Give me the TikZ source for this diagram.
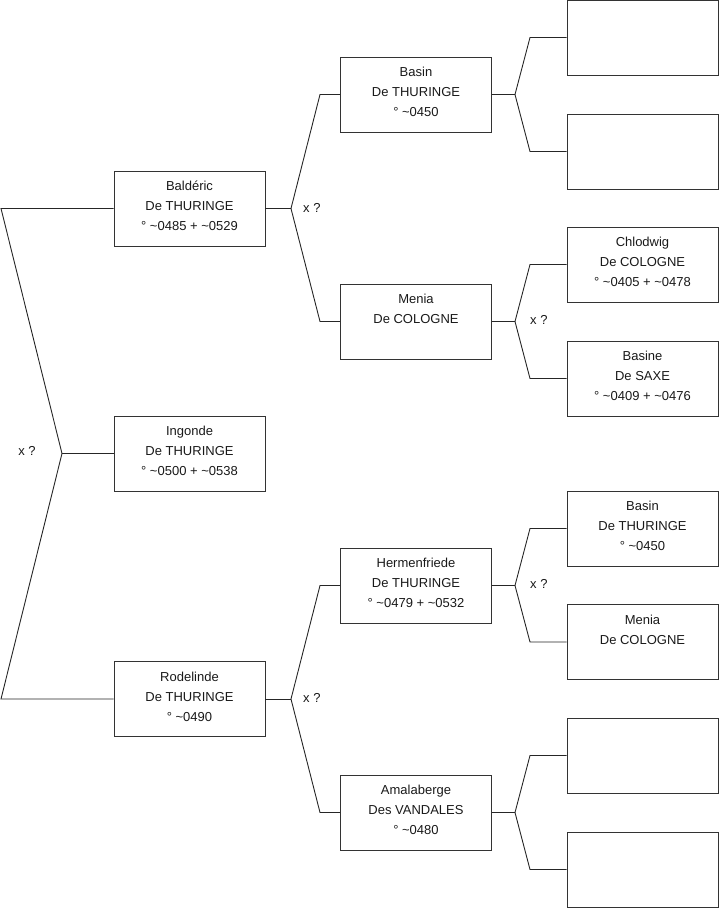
\documentclass[tikz,border=0pt]{standalone}
\usepackage{fontspec}
\setmainfont{Liberation Sans}
\begin{document}
\begin{tikzpicture}[x=1pt,y=-1pt,
  person/.style={draw=black!80,line width=0.9pt,minimum width=151pt,minimum height=75pt,
    inner sep=0pt,align=center,font=\fontsize{13}{20}\selectfont,text=black!90,text depth=5pt},
  conn/.style={draw=black!85,line width=0.9pt},
  xq/.style={font=\fontsize{13}{16}\selectfont,text=black!90,inner sep=0pt}]
\useasboundingbox (0,0) rectangle (719,908);
% column 1
\node[person] (bald) at (189.5,208.5) {Baldéric\\De THURINGE\\° \textasciitilde0485 + \textasciitilde0529};
\node[person] (ingo) at (189.5,453.5) {Ingonde\\De THURINGE\\° \textasciitilde0500 + \textasciitilde0538};
\node[person] (rode) at (189.5,699) {Rodelinde\\De THURINGE\\° \textasciitilde0490};
% column 2
\node[person] (basin) at (416,94.5) {Basin\\De THURINGE\\° \textasciitilde0450};
\node[person] (menia) at (416,321.5) {Menia\\De COLOGNE\\\mbox{}};
\node[person] (herm) at (416,585.5) {Hermenfriede\\De THURINGE\\° \textasciitilde0479 + \textasciitilde0532};
\node[person] (amal) at (416,812.5) {Amalaberge\\Des VANDALES\\° \textasciitilde0480};
% column 3
\node[person] (e1) at (642.5,37.5) {};
\node[person] (e2) at (642.5,151.5) {};
\node[person] (chlo) at (642.5,264.5) {Chlodwig\\De COLOGNE\\° \textasciitilde0405 + \textasciitilde0478};
\node[person] (basine) at (642.5,378.5) {Basine\\De SAXE\\° \textasciitilde0409 + \textasciitilde0476};
\node[person] (basin2) at (642.5,528.5) {Basin\\De THURINGE\\° \textasciitilde0450};
\node[person] (menia2) at (642.5,642) {Menia\\De COLOGNE\\\mbox{}};
\node[person] (e3) at (642.5,755.5) {};
\node[person] (e4) at (642.5,869.5) {};
% root fork
\coordinate (rA) at (1,208.5);
\coordinate (rF) at (62,453.5);
\coordinate (rB) at (1,699);
\draw[conn] (bald.west) -- (rA) -- (rF) -- (rB) -- (rode.west);
\draw[conn] (rF) -- (ingo.west);
\node[xq] (xr) at (27,451) {x ?};
% Balderic fork
\coordinate (bF) at (291,208.5);
\coordinate (bU) at (320,94.5);
\coordinate (bD) at (320,321.5);
\draw[conn] (bald.east) -- (bF);
\draw[conn] (basin.west) -- (bU) -- (bF) -- (bD) -- (menia.west);
\node[xq,anchor=west] (xb) at (303,207.5) {x ?};
% Rodelinde fork
\coordinate (dF) at (291,699);
\coordinate (dU) at (320,585.5);
\coordinate (dD) at (320,812.5);
\draw[conn] (rode.east) -- (dF);
\draw[conn] (herm.west) -- (dU) -- (dF) -- (dD) -- (amal.west);
\node[xq,anchor=west] (xd) at (303,698) {x ?};
% Basin fork
\coordinate (sF) at (515,94.5);
\coordinate (sU) at (530,37.5);
\coordinate (sD) at (530,151.5);
\draw[conn] (basin.east) -- (sF);
\draw[conn] (e1.west) -- (sU) -- (sF) -- (sD) -- (e2.west);
% Menia fork
\coordinate (mF) at (515,321.5);
\coordinate (mU) at (530,264.5);
\coordinate (mD) at (530,378.5);
\draw[conn] (menia.east) -- (mF);
\draw[conn] (chlo.west) -- (mU) -- (mF) -- (mD) -- (basine.west);
\node[xq,anchor=west] (xm) at (530,320) {x ?};
% Hermenfriede fork
\coordinate (hF) at (515,585.5);
\coordinate (hU) at (530,528.5);
\coordinate (hD) at (530,642);
\draw[conn] (herm.east) -- (hF);
\draw[conn] (basin2.west) -- (hU) -- (hF) -- (hD) -- (menia2.west);
\node[xq,anchor=west] (xh) at (530,584) {x ?};
% Amalaberge fork
\coordinate (aF) at (515,812.5);
\coordinate (aU) at (530,755.5);
\coordinate (aD) at (530,869.5);
\draw[conn] (amal.east) -- (aF);
\draw[conn] (e3.west) -- (aU) -- (aF) -- (aD) -- (e4.west);
\end{tikzpicture}
\end{document}
